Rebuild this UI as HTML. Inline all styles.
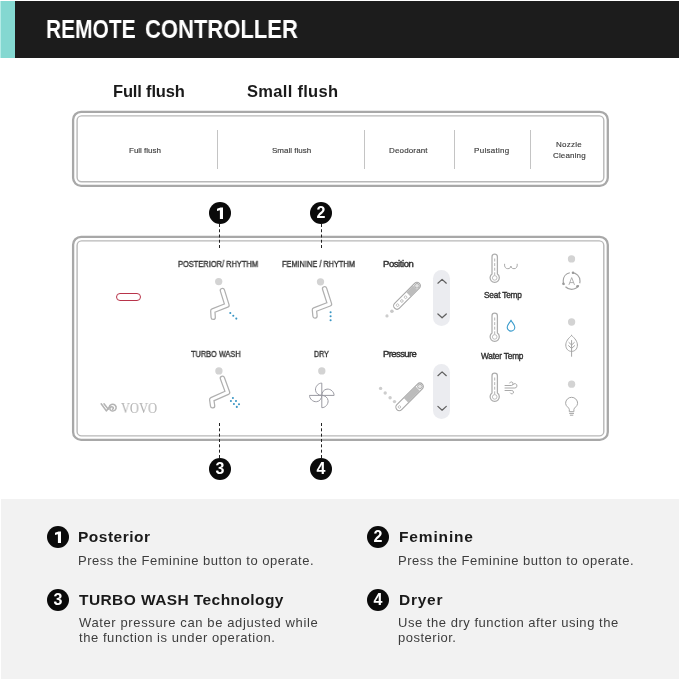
<!DOCTYPE html>
<html>
<head>
<meta charset="utf-8">
<title>Remote Controller</title>
<style>
html,body{margin:0;padding:0;}
body{width:679px;height:679px;position:relative;overflow:hidden;background:#fff;font-family:"Liberation Sans",sans-serif;}
.a{position:absolute;}
.t{position:absolute;white-space:nowrap;line-height:1;transform-origin:0 0;will-change:transform;}
.hdr-teal{left:0;top:1px;width:15px;height:57px;background:#84d8d1;border-left:1px solid #b4ece7;box-sizing:border-box;}
.hdr-blk{left:15px;top:1px;width:664px;height:57px;background:#1c1c1c;}
.title{left:45.5px;top:17.3px;font-size:25px;font-weight:700;color:#fff;transform:scaleX(.877);}
.h2{font-size:16.5px;font-weight:700;color:#1a1a1a;}
.panel-o{border:2px solid #a9a9a9;border-radius:9px;box-sizing:border-box;}
.panel-i{border:1px solid #b4b4b4;border-radius:5px;box-sizing:border-box;}
.vdiv{width:1px;background:#c4c4c4;}
.sm{font-size:8px;color:#3c3c3c;-webkit-text-stroke:.15px #3c3c3c;}
.lbl{font-size:8.2px;font-weight:400;color:#333;-webkit-text-stroke:.35px #333;}
.lbl2{font-size:9.5px;font-weight:400;color:#2e2e2e;-webkit-text-stroke:.4px #2e2e2e;}
.lbl3{font-size:8.3px;font-weight:400;color:#2e2e2e;-webkit-text-stroke:.35px #2e2e2e;}
.dot{width:7.6px;height:7.6px;border-radius:50%;background:#cecece;margin:-.3px 0 0 -.3px;}
.num{width:22px;height:22px;border-radius:50%;background:#0a0a0a;color:#fff;font-weight:700;font-size:16px;line-height:22.5px;text-align:center;will-change:transform;}
.dash{width:0;border-left:1px dashed #222;z-index:2;}
.pill{background:#ebecf0;border-radius:9px;width:17.4px;}
.foot{left:1px;top:499px;width:678px;height:180px;background:#f2f2f2;}
.fh{font-size:15.5px;font-weight:700;color:#1a1a1a;}
.fp{font-size:13px;font-weight:400;color:#3d3d3d;}
</style>
</head>
<body>
<!-- header -->
<div class="a hdr-teal"></div>
<div class="a hdr-blk"></div>
<div class="t title" style="transform:scaleX(.838);">REMOTE</div>
<div class="t title" style="left:144.6px;transform:scaleX(.881);">CONTROLLER</div>

<!-- headings -->
<div class="t h2" style="left:112.7px;top:83px;letter-spacing:-.17px;">Full flush</div>
<div class="t h2" style="left:247.3px;top:83px;letter-spacing:.3px;">Small flush</div>

<!-- top panel -->
<div class="a vdiv" style="left:216.5px;top:130px;height:39px;"></div>
<div class="a vdiv" style="left:364px;top:130px;height:39px;"></div>
<div class="a vdiv" style="left:454px;top:130px;height:39px;"></div>
<div class="a vdiv" style="left:530px;top:130px;height:39px;"></div>
<div class="t sm" style="left:129px;top:146.6px;">Full flush</div>
<div class="t sm" style="left:272px;top:146.6px;">Small flush</div>
<div class="t sm" style="left:389px;top:146.6px;letter-spacing:.15px;">Deodorant</div>
<div class="t sm" style="left:473.5px;top:146.6px;letter-spacing:.3px;">Pulsating</div>
<div class="t sm" style="left:556px;top:141px;letter-spacing:.25px;">Nozzle</div>
<div class="t sm" style="left:552.5px;top:151.5px;letter-spacing:.15px;">Cleaning</div>

<!-- number bubbles + dashed leaders -->
<div class="a num" style="left:208.5px;top:202.4px;"><svg width="22" height="22" viewBox="-11 -11 22 22" style="display:block"><path fill="#fff" d="M3,-5.6 V6 H-0.1 V-2.7 L-3,-2 V-4.3 L0.5,-5.6 Z"/></svg></div>
<div class="a num" style="left:310px;top:202.4px;">2</div>
<div class="a num" style="left:208.5px;top:458px;">3</div>
<div class="a num" style="left:310px;top:458px;">4</div>
<div class="a dash" style="left:219px;top:224px;height:24px;"></div>
<div class="a dash" style="left:320.5px;top:224px;height:24px;"></div>
<div class="a dash" style="left:219px;top:423px;height:35px;"></div>
<div class="a dash" style="left:320.5px;top:423px;height:35px;"></div>

<!-- main panel -->

<!-- red pill -->
<div class="a" style="left:116px;top:293px;width:25px;height:8px;box-sizing:border-box;border:1.5px solid #b8344a;border-radius:4px;"></div>

<!-- logo -->
<svg class="a" style="left:98px;top:400px;" width="22" height="16" viewBox="0 0 22 16">
 <g fill="none" stroke="#b4b4b4" stroke-width="1.65" stroke-linecap="round" stroke-linejoin="round" transform="translate(10.65 7.35) scale(.935 .9) translate(-10.5 -7.5)">
  <path d="M2.5 3.5 L8 11.5 L11 7.5"/>
  <path d="M5.5 3.5 L10 9.5"/>
  <path d="M11 7.5 C11.5 4.5 15 3 17.3 5 C19.5 7 18.7 10.6 15.8 11.4 C13.5 12 11.6 10.6 11.8 8.8 C12 7.2 13.8 6.4 15 7.3 C16 8.1 15.6 9.4 14.6 9.5"/>
 </g>
</svg>
<div class="t" style="left:121.3px;top:402px;font-family:'Liberation Serif',serif;font-size:13.6px;color:#b0b0b0;transform:scaleX(.915);">VOVO</div>

<!-- labels -->
<div class="t lbl" style="left:177.8px;top:260.7px;transform:scaleX(.912);">POSTERIOR/ RHYTHM</div>
<div class="t lbl" style="left:281.7px;top:260.7px;transform:scaleX(.9);">FEMININE / RHYTHM</div>
<div class="t lbl" style="left:191.3px;top:351.1px;transform:scaleX(.9);">TURBO WASH</div>
<div class="t lbl" style="left:314px;top:351.1px;transform:scaleX(.86);">DRY</div>
<div class="t lbl2" style="left:382.6px;top:259.3px;letter-spacing:-.42px;">Position</div>
<div class="t lbl2" style="left:382.6px;top:349.2px;letter-spacing:-.6px;">Pressure</div>
<div class="t lbl3" style="left:483.5px;top:291px;letter-spacing:-.2px;">Seat Temp</div>
<div class="t lbl3" style="left:480.8px;top:351.5px;letter-spacing:-.2px;">Water Temp</div>

<!-- icons layer -->
<svg class="a" style="left:0;top:0;" width="679" height="679" viewBox="0 0 679 679">
 <g fill="none">
  <rect x="73.1" y="111.8" width="534.7" height="74" rx="8" stroke="#a8a8a8" stroke-width="2.3"/>
  <rect x="77.1" y="115.9" width="526.7" height="65.8" rx="4.5" stroke="#b8b8b8" stroke-width="1.4"/>
  <rect x="73.1" y="236.8" width="534.7" height="203.1" rx="8" stroke="#a8a8a8" stroke-width="2.3"/>
  <rect x="77.1" y="240.9" width="526.7" height="195" rx="4.5" stroke="#b8b8b8" stroke-width="1.4"/>
 </g>
 <g fill="#d3d3d3"><circle cx="218.7" cy="281.6" r="3.65"/><circle cx="320.5" cy="281.8" r="3.65"/><circle cx="218.9" cy="370.9" r="3.65"/><circle cx="321.8" cy="370.9" r="3.65"/><circle cx="571.5" cy="258.9" r="3.65"/><circle cx="571.6" cy="322" r="3.65"/><circle cx="571.6" cy="384.2" r="3.65"/></g>
 <!-- posterior -->
 <g fill="none" stroke-linecap="round" stroke-linejoin="round">
  <polyline points="222.4,290.5 227,305.2 212.8,310.8 213.2,317.3" stroke="#b0b0b0" stroke-width="5.5"/>
  <polyline points="222.4,290.5 227,305.2 212.8,310.8 213.2,317.3" stroke="#fff" stroke-width="3"/>
 </g>
 <g fill="#3a96c4"><circle cx="230.3" cy="313" r="1.05"/><circle cx="233.3" cy="315.8" r="1.05"/><circle cx="236.3" cy="318.6" r="1.05"/></g>
 <!-- feminine -->
 <g fill="none" stroke-linecap="round" stroke-linejoin="round">
  <polyline points="324.6,288.8 329.5,304 314.4,309.8 315,316" stroke="#b0b0b0" stroke-width="5.5"/>
  <polyline points="324.6,288.8 329.5,304 314.4,309.8 315,316" stroke="#fff" stroke-width="3"/>
 </g>
 <g fill="#3a96c4"><circle cx="330.6" cy="312.2" r="1.05"/><circle cx="330.6" cy="316.2" r="1.05"/><circle cx="330.6" cy="320.3" r="1.05"/></g>
 <!-- turbo -->
 <g fill="none" stroke-linecap="round" stroke-linejoin="round">
  <polyline points="222.4,378.3 227.6,392.4 211.7,399.5 212.6,405.8" stroke="#b0b0b0" stroke-width="5.5"/>
  <polyline points="222.4,378.3 227.6,392.4 211.7,399.5 212.6,405.8" stroke="#fff" stroke-width="3"/>
 </g>
 <g fill="#3a96c4"><circle cx="232.9" cy="398" r="1.05"/><circle cx="236" cy="401" r="1.05"/><circle cx="239" cy="404.2" r="1.05"/><circle cx="230.9" cy="401" r="1.05"/><circle cx="233.9" cy="404" r="1.05"/><circle cx="236.8" cy="406.9" r="1.05"/></g>
 <!-- fan -->
 <g transform="translate(321.8 395.4)" fill="none" stroke="#9a9aa2" stroke-width="1">
  <path id="bl" d="M0,0 L0,-12.3 C-3.5,-12.3 -6.6,-9 -6.3,-5.2 C-6,-2 -3,0 0,0 Z"/>
  <path d="M0,0 L0,-12.3 C-3.5,-12.3 -6.6,-9 -6.3,-5.2 C-6,-2 -3,0 0,0 Z" transform="rotate(90)"/>
  <path d="M0,0 L0,-12.3 C-3.5,-12.3 -6.6,-9 -6.3,-5.2 C-6,-2 -3,0 0,0 Z" transform="rotate(180)"/>
  <path d="M0,0 L0,-12.3 C-3.5,-12.3 -6.6,-9 -6.3,-5.2 C-6,-2 -3,0 0,0 Z" transform="rotate(270)"/>
 </g>
 <!-- position nozzle -->
 <g transform="translate(407 295.8) rotate(-45)">
  <rect x="-17.5" y="-3.4" width="35" height="6.8" rx="3.4" fill="#fff" stroke="#a6a6a6" stroke-width="1.1"/>
  <rect x="2" y="-2.9" width="9.5" height="5.8" fill="#bdbdbd"/>
  <circle cx="14.1" cy="0" r="2.3" fill="#e2e2e2" stroke="#a6a6a6" stroke-width=".9"/>
  <circle cx="-13.3" cy="0" r="1.3" fill="none" stroke="#b5b5b5" stroke-width=".8"/>
  <circle cx="-7.3" cy="0" r="1.3" fill="none" stroke="#b5b5b5" stroke-width=".8"/>
  <circle cx="-2" cy="0" r="1.3" fill="none" stroke="#b5b5b5" stroke-width=".8"/>
 </g>
 <circle cx="391.9" cy="311.2" r="1.8" fill="#c8c8c8"/>
 <circle cx="387" cy="315.9" r="1.6" fill="#cdcdcd"/>
 <!-- pressure nozzle -->
 <g transform="translate(409.6 396.8) rotate(-45)">
  <rect x="-18" y="-3.4" width="36" height="6.8" rx="3.4" fill="#fff" stroke="#a6a6a6" stroke-width="1.1"/>
  <rect x="-5" y="-2.9" width="16.5" height="5.8" fill="#bcbcbc"/>
  <circle cx="14.6" cy="0" r="2.3" fill="#e2e2e2" stroke="#a6a6a6" stroke-width=".9"/>
  <circle cx="-14.4" cy="0" r="1.25" fill="none" stroke="#b5b5b5" stroke-width=".8"/>
 </g>
 <g fill="#cdcdcd"><circle cx="394.5" cy="401.6" r="1.7"/><circle cx="390.1" cy="397.7" r="1.7"/><circle cx="385.2" cy="393" r="1.7"/><circle cx="380.6" cy="388.4" r="1.7"/></g>
 <!-- chevrons -->
 <g fill="none" stroke="#606060" stroke-width="1.25" stroke-linecap="round" stroke-linejoin="round">
  <polyline points="437.9,283.2 442.1,279.4 446.3,283.2"/>
  <polyline points="437.9,314 442.1,317.8 446.3,314"/>
  <polyline points="437.9,375.7 442.1,371.9 446.3,375.7"/>
  <polyline points="437.9,406.4 442.1,410.2 446.3,406.4"/>
 </g>
 <!-- thermometers -->
 <g id="th1" fill="none" stroke="#adadad" stroke-width="1.25">
  <path d="M492,274 L492,256.8 A2.7,2.7 0 0 1 497.4,256.8 L497.4,274 A4.6,4.6 0 1 1 492,274 Z"/>
  <circle cx="494.7" cy="277.9" r="2.3" stroke-width=".8"/>
  <path d="M494.7,258.5 V275.6" stroke-width=".9" stroke-dasharray="3 1.6"/>
 </g>
 <g fill="none" stroke="#adadad" stroke-width="1.25" transform="translate(0 59)">
  <path d="M492,274 L492,256.8 A2.7,2.7 0 0 1 497.4,256.8 L497.4,274 A4.6,4.6 0 1 1 492,274 Z"/>
  <circle cx="494.7" cy="277.9" r="2.3" stroke-width=".8"/>
  <path d="M494.7,258.5 V275.6" stroke-width=".9" stroke-dasharray="3 1.6"/>
 </g>
 <g fill="none" stroke="#adadad" stroke-width="1.25" transform="translate(0 119)">
  <path d="M492,274 L492,256.8 A2.7,2.7 0 0 1 497.4,256.8 L497.4,274 A4.6,4.6 0 1 1 492,274 Z"/>
  <circle cx="494.7" cy="277.9" r="2.3" stroke-width=".8"/>
  <path d="M494.7,258.5 V275.6" stroke-width=".9" stroke-dasharray="3 1.6"/>
 </g>
 <!-- seat -->
 <path d="M504.6,263.8 C504.2,267 505.6,268.7 507.8,268.7 C509.8,268.7 510.8,267.5 510.9,266 C511,267.5 512,268.7 514,268.7 C516.2,268.7 517.6,267 517.2,263.8" fill="none" stroke="#aaa" stroke-width="1"/>
 <!-- drop -->
 <path d="M511,320.2 C509.5,323 507.2,325 507.2,327.3 A3.8,3.8 0 0 0 514.8,327.3 C514.8,325 512.5,323 511,320.2 Z" fill="#fff" stroke="#3b9ccc" stroke-width="1.1" stroke-linejoin="round"/>
 <!-- wind -->
 <g fill="none" stroke="#aaa" stroke-width="1" stroke-linecap="round">
  <path d="M505,385.5 H511.3 A1.8,1.8 0 1 0 509.6,383"/>
  <path d="M505,388 H514.8 A2.2,2.2 0 1 0 512.8,384.8"/>
  <path d="M505,390.5 H511.8 A1.7,1.7 0 1 1 510.3,393"/>
 </g>
 <!-- auto icon -->
 <circle cx="571.6" cy="281" r="8.4" fill="none" stroke="#a3a3a3" stroke-width="1.15" stroke-dasharray="15.4 2.2" stroke-dashoffset="-4.5"/>
 <g fill="#9a9a9a"><circle cx="573" cy="272.8" r="1.25"/><circle cx="563.4" cy="283.8" r="1.25"/><circle cx="577.5" cy="286.3" r="1.25"/></g>
 <path d="M568.9,284.9 L571.7,277.6 L574.5,284.9 M569.9,282.6 H573.5" fill="none" stroke="#a8a8a8" stroke-width=".9" stroke-linejoin="round"/>
 <!-- leaf -->
 <g fill="none" stroke="#a5a5a5" stroke-width="1" stroke-linecap="round" stroke-linejoin="round">
  <path d="M571.6,335.5 C568,338.5 565.8,341.7 565.8,345 C565.8,349.3 568.6,351.4 571.6,351.4 C574.6,351.4 577.4,349.3 577.4,345 C577.4,341.7 575.2,338.5 571.6,335.5 Z"/>
  <path d="M571.6,340.5 V356.3"/>
  <path d="M571.6,345 L568.9,342.5 M571.6,345 L574.3,342.5 M571.6,348.4 L568.6,345.7 M571.6,348.4 L574.6,345.7"/>
 </g>
 <!-- bulb -->
 <g fill="none" stroke="#a5a5a5" stroke-width="1" stroke-linecap="round" stroke-linejoin="round">
  <path d="M569.3,411.3 V409.5 C569.3,407.5 565.6,406.5 565.6,403.3 A6,6 0 0 1 577.6,403.3 C577.6,406.5 573.9,407.5 573.9,409.5 V411.3 Z"/>
  <path d="M569.6,413.4 H573.6 M570.3,415.2 H572.9"/>
 </g>
</svg>

<!-- arrow pills (behind chevrons: placed via z-index) -->
<div class="a pill" style="left:432.8px;top:270.1px;height:56.3px;z-index:-1;"></div>
<div class="a pill" style="left:432.8px;top:364.4px;height:54.2px;z-index:-1;"></div>

<!-- footer -->
<div class="a foot" style="z-index:-2;"></div>
<div class="a num" style="left:47.2px;top:525.7px;"><svg width="22" height="22" viewBox="-11 -11 22 22" style="display:block"><path fill="#fff" d="M3,-5.6 V6 H-0.1 V-2.7 L-3,-2 V-4.3 L0.5,-5.6 Z"/></svg></div>
<div class="a num" style="left:366.9px;top:525.7px;">2</div>
<div class="a num" style="left:47.2px;top:589px;">3</div>
<div class="a num" style="left:367px;top:589px;">4</div>
<div class="t fh" style="left:78.2px;top:528.9px;letter-spacing:.5px;">Posterior</div>
<div class="t fh" style="left:398.7px;top:529px;letter-spacing:.85px;">Feminine</div>
<div class="t fh" style="left:78.6px;top:592.4px;letter-spacing:.42px;">TURBO WASH Technology</div>
<div class="t fh" style="left:398.6px;top:592.4px;letter-spacing:.75px;">Dryer</div>
<div class="t fp" style="left:78px;top:554px;letter-spacing:.5px;">Press the Feminine button to operate.</div>
<div class="t fp" style="left:398px;top:554px;letter-spacing:.5px;">Press the Feminine button to operate.</div>
<div class="t fp" style="left:78.5px;top:616px;letter-spacing:.62px;">Water pressure can be adjusted while</div>
<div class="t fp" style="left:78.5px;top:631.3px;letter-spacing:.56px;">the function is under operation.</div>
<div class="t fp" style="left:398.3px;top:616px;letter-spacing:.53px;">Use the dry function after using the</div>
<div class="t fp" style="left:398.3px;top:631.3px;letter-spacing:.5px;">posterior.</div>
</body>
</html>
